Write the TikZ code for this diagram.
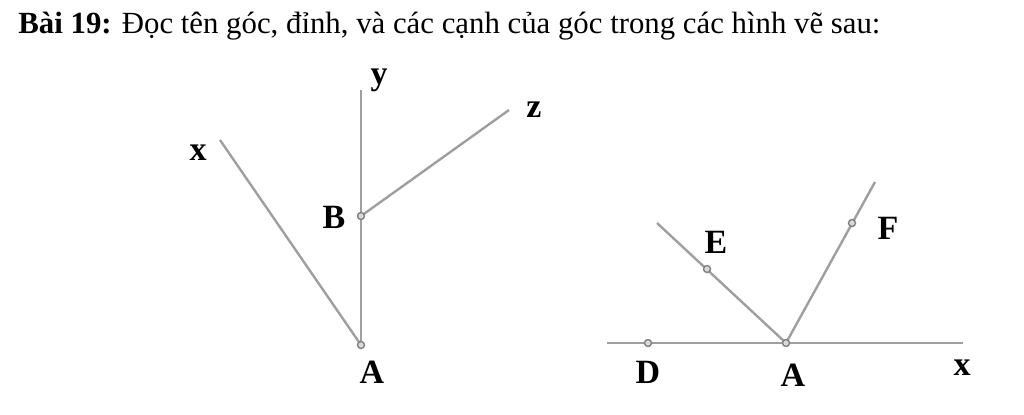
\documentclass[tikz,border=0pt]{standalone}
\usepackage{fontspec}
\setmainfont{Liberation Serif}
\tikzset{
  ray/.style={draw=gray!75, line width=1.2pt},
  pt/.style={draw=gray, fill=gray!30, line width=0.7pt},
  lbl/.style={font=\fontsize{17}{20}\selectfont\bfseries, inner sep=0pt}
}
\begin{document}
\begin{tikzpicture}[x=0.5pt, y=-0.5pt]
    \useasboundingbox (0,0) rectangle (1024,414);
    \node[anchor=base west, inner sep=0pt, font=\fontsize{15.4}{18}\selectfont] (title) at (18,33)
      {\textbf{Bài 19:} Đọc tên góc, đỉnh, và các cạnh của góc trong các hình vẽ sau:};
    % left figure
    \coordinate (A1) at (361,345);
    \coordinate (B1) at (361,216);
    \coordinate (y1) at (361,90);
    \coordinate (z1) at (509,110);
    \coordinate (x1) at (220,140);
    \draw[ray] (A1) -- (y1);
    \draw[ray] (A1) -- (x1);
    \draw[ray] (B1) -- (z1);
    \draw[pt] (A1) circle (3.5);
    \draw[pt] (B1) circle (3.5);
    \node[lbl] (ly1) at (379,80) {y};
    \node[lbl] (lz1) at (534,110) {z};
    \node[lbl] (lx1) at (198,153) {x};
    \node[lbl] (lB1) at (334,217) {B};
    \node[lbl] (lA1) at (372,372) {A};
    % right figure
    \coordinate (L2) at (607,343);
    \coordinate (R2) at (963,343);
    \coordinate (A2) at (786,343);
    \coordinate (D2) at (648,343);
    \coordinate (E2) at (707,269);
    \coordinate (e2) at (657,223);
    \coordinate (F2) at (852,223);
    \coordinate (f2) at (875,182);
    \draw[ray] (L2) -- (R2);
    \draw[ray] (A2) -- (e2);
    \draw[ray] (A2) -- (f2);
    \draw[pt] (D2) circle (3.5);
    \draw[pt] (A2) circle (3.5);
    \draw[pt] (E2) circle (3.5);
    \draw[pt] (F2) circle (3.5);
    \node[lbl] (lE2) at (716,242) {E};
    \node[lbl] (lF2) at (888,228) {F};
    \node[lbl] (lD2) at (648,372) {D};
    \node[lbl] (lA2) at (793,375) {A};
    \node[lbl] (lx2) at (962,368) {x};
\end{tikzpicture}
\end{document}
